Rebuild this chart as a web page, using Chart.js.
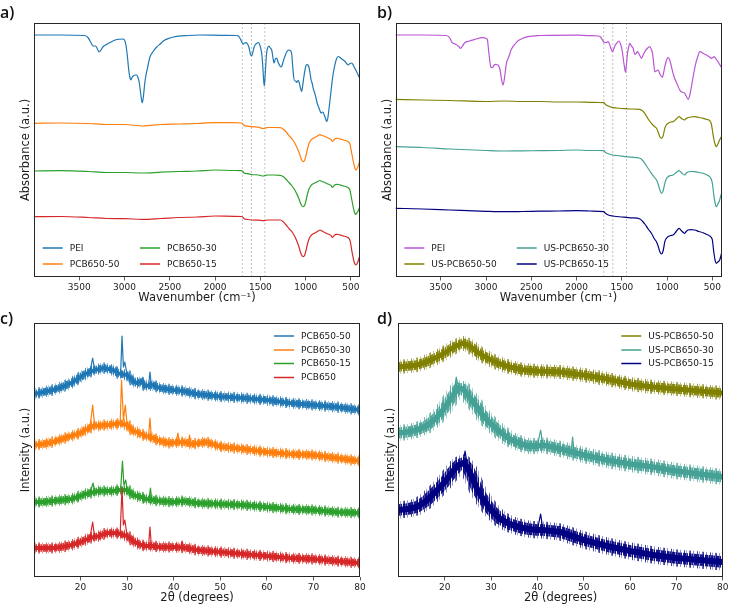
<!DOCTYPE html>
<html>
<head>
<meta charset="utf-8">
<script src="https://cdn.jsdelivr.net/npm/chart.js@4.4.0/dist/chart.umd.min.js"></script>
<style>
  html, body { margin: 0; padding: 0; background: #fff; }
  #wrap { position: relative; width: 730px; height: 606px; overflow: hidden; }
  canvas { position: absolute; }
</style>
</head>
<body>
<div id="wrap">
  <canvas id="panelA" width="372" height="306" style="left:0;top:0"></canvas>
  <canvas id="panelB" width="372" height="306" style="left:365px;top:0"></canvas>
  <canvas id="panelC" width="372" height="306" style="left:0;top:300px"></canvas>
  <canvas id="panelD" width="372" height="306" style="left:365px;top:300px"></canvas>
</div>
<script>
// ---- FTIR, panel a: [wavenumber (cm-1), absorbance (offset, a.u.)]
const labelsA = ["PEI", "PCB650-50", "PCB650-30", "PCB650-15"];
const peiA = [[4000,242],[3700,242],[3440,241.5],[3400,239],[3375,235],[3349,231],[3320,231],[3300,228],[3282,225],[3260,227],[3240,230],[3200,232.5],[3160,234.5],[3085,237.5],[3020,238],[3000,237],[2985,232],[2970,222],[2955,208],[2940,199],[2930,197],[2915,200],[2904,201],[2880,202],[2866,202],[2850,199],[2835,193],[2820,182],[2804,174],[2790,182],[2778,193],[2767,200],[2740,212],[2720,220],[2680,226],[2645,230],[2600,233.5],[2572,236],[2500,239],[2462,240],[2300,241.5],[2167,242],[1900,241.7],[1760,241.5],[1744,241],[1730,239.5],[1718,237.5],[1700,234],[1689,233],[1675,234],[1660,234.3],[1640,232.7],[1625,229],[1610,223],[1597,221],[1585,224],[1570,229.5],[1555,232.5],[1541,233.5],[1525,234.5],[1516,234],[1500,230],[1486,224],[1475,213],[1465,198],[1457,191],[1450,198],[1440,213],[1431,224],[1420,229],[1405,231],[1390,229],[1375,227],[1362,220],[1350,214],[1335,218],[1320,219],[1305,215],[1290,212],[1275,210],[1265,210.5],[1250,215],[1230,220.5],[1210,225],[1185,227],[1170,226.5],[1155,223.5],[1145,213],[1135,202],[1120,196],[1110,196],[1100,194.5],[1085,196.5],[1075,195.5],[1060,190],[1045,185.5],[1035,190],[1020,200],[1005,208],[990,212.5],[975,212],[965,210],[950,203],[940,197],[928,193.5],[915,188],[900,184],[886,179],[870,173],[860,170.5],[845,167],[831,164],[815,165],[806,164.5],[795,162],[780,158.5],[768,155.5],[755,159],[745,166],[731,177],[715,190],[695,204],[675,213],[660,218],[640,220.5],[620,219.5],[600,218],[585,217],[560,215],[530,212],[510,213.5],[492,214],[475,212],[455,208.5],[430,204],[410,200],[400,198]];
const pcb50A = [[4000,153.7],[3700,154],[3400,153.5],[3200,152.5],[3000,152.5],[2800,151],[2600,152.5],[2400,153],[2200,153.5],[2000,154.3],[1800,154.3],[1710,154],[1700,153.5],[1680,151.5],[1640,150.8],[1600,150.3],[1520,149.8],[1470,148.5],[1450,148.8],[1420,149.5],[1350,149.5],[1280,149.3],[1250,148],[1220,145.5],[1180,141],[1150,138],[1120,134],[1100,130.3],[1075,125],[1060,121],[1045,117],[1027,115.3],[1010,117],[995,122],[980,128],[965,133],[952,135.5],[930,138],[900,139.5],[870,141],[842,142.3],[820,141.5],[800,141],[768,139.7],[740,138.5],[720,137.5],[705,135.5],[695,136.3],[680,138],[658,138.7],[640,138.5],[600,137.5],[560,136.5],[530,135.3],[512,133],[500,128],[490,123],[475,116],[465,112],[453,108],[445,107],[435,108],[420,111],[410,114],[400,117]];
const pcb30A = [[4000,106],[3700,106.3],[3400,105.5],[3200,104.5],[3000,104.5],[2800,104],[2600,104.8],[2400,105.5],[2200,106],[2000,107],[1800,106.5],[1710,106.3],[1700,106],[1680,104],[1640,103.3],[1600,102.5],[1520,102],[1470,101],[1450,101.5],[1420,102],[1350,102],[1280,101.7],[1250,100.5],[1220,98],[1180,94],[1150,91],[1120,87],[1100,83.5],[1075,78.5],[1060,74.5],[1045,71.5],[1027,70.3],[1010,72],[995,77],[980,83],[965,87.5],[952,90],[930,92.5],[900,94],[870,95.5],[842,96.5],[820,95.5],[800,95],[768,93.5],[740,92.5],[720,91.5],[705,89.5],[695,90.3],[680,92],[658,92.7],[640,92.5],[600,91.5],[560,90.5],[530,89.3],[512,87],[500,82],[490,77],[475,70],[465,66],[453,63],[445,62.7],[435,64],[420,66],[410,68.5],[400,70.3]];
const pcb15A = [[4000,60.3],[3700,60.5],[3400,59.5],[3200,58.5],[3000,58.3],[2800,57.7],[2600,58.5],[2400,59.5],[2200,60],[2000,61],[1800,60.7],[1710,60.5],[1700,60.2],[1680,58.3],[1640,57.5],[1600,57],[1520,56.8],[1470,56.3],[1450,56.5],[1420,57],[1350,57],[1280,57],[1250,55.5],[1220,52.5],[1180,48],[1150,45],[1120,40.5],[1100,36.5],[1075,30.5],[1060,25.5],[1045,22],[1027,20.3],[1010,22],[995,27],[980,33],[965,37.5],[952,40],[930,42.5],[900,44],[870,45.5],[842,47],[820,46],[800,45],[768,43.5],[740,42.5],[720,41.5],[705,39.5],[695,40.3],[680,42],[658,42.7],[640,42.5],[600,41.5],[560,40.5],[530,39.3],[512,37],[500,32],[490,26],[475,19],[465,15],[453,12.5],[445,12],[435,13],[420,16],[410,19],[400,21]];

// ---- FTIR, panel b
const labelsB = ["PEI", "US-PCB650-50", "US-PCB650-30", "US-PCB650-15"];
const peiB = [[4000,242],[3700,242],[3440,241.5],[3400,239],[3375,234.3],[3340,233],[3300,230.5],[3282,228.7],[3260,231],[3235,234.3],[3180,236],[3124,237.7],[3033,239.3],[3000,238.5],[2985,237],[2970,225],[2948,210.3],[2930,209.3],[2915,211.5],[2896,212.7],[2880,212.3],[2867,212],[2845,207],[2830,198],[2812,192],[2795,200],[2775,213.7],[2750,220],[2720,227.7],[2680,233],[2646,236.3],[2600,238.5],[2536,240.3],[2400,241.5],[2315,241.7],[2000,241.8],[1855,241.3],[1760,241],[1730,239.5],[1715,237],[1700,235],[1678,234.3],[1653,235.3],[1630,231],[1615,227],[1604,225.3],[1590,228],[1575,231.5],[1560,233.7],[1531,236],[1515,233],[1498,227],[1480,215],[1468,208],[1460,204.7],[1450,212],[1438,223.7],[1425,230],[1413,233.7],[1395,231],[1376,228.7],[1358,222.7],[1343,223.5],[1328,225.3],[1305,222],[1284,218.7],[1265,222],[1247,225.3],[1220,228.5],[1192,230.3],[1175,227.5],[1162,223.7],[1150,215],[1137,205.3],[1120,206],[1100,207],[1080,203],[1052,199.7],[1040,204],[1026,210.3],[1010,216],[990,219.7],[970,216.5],[953,210.3],[930,202],[905,196],[885,192],[861,187],[840,185],[813,184.3],[790,181],[769,177.7],[750,182],[732,190.3],[710,202],[684,213.7],[660,221],[640,225.3],[600,223.5],[567,222],[540,220.5],[512,218.7],[495,219.5],[483,220.3],[460,218],[439,215.3],[420,212.5],[410,211],[400,209.5]];
const usPcb50B = [[4000,177.7],[3700,177],[3400,176.5],[3000,175.5],[2800,176],[2600,175.5],[2400,175.5],[2200,175],[2000,175],[1855,174.7],[1760,174.5],[1700,174.3],[1680,172.5],[1650,171],[1610,169.7],[1560,169],[1500,168.5],[1460,168.3],[1400,168],[1300,167.7],[1270,166],[1247,163.7],[1210,158],[1174,153.7],[1140,150.5],[1118,148.7],[1100,145],[1082,140.5],[1063,138.7],[1045,141],[1026,148.7],[1010,152],[990,153.7],[960,155],[935,155.3],[900,158],[868,160.3],[840,158.5],[806,157],[790,158.5],[769,159.3],[740,160],[695,160.3],[650,159.5],[603,158.7],[560,157.5],[530,156.3],[512,153],[501,147],[485,138],[470,132.5],[456,130.3],[440,133],[420,137],[410,139],[400,140.3]];
const usPcb30B = [[4000,130.3],[3700,129.5],[3400,128],[3000,126.5],[2800,126],[2600,126.2],[2400,126.3],[2200,126.5],[2000,127],[1855,126.5],[1760,126.5],[1700,126.3],[1680,124.5],[1650,123.3],[1600,122],[1560,121.5],[1500,120.8],[1450,120.3],[1400,119.8],[1300,118.7],[1270,116.5],[1247,113.7],[1210,108.5],[1174,103.7],[1140,99.5],[1118,97],[1100,93],[1082,87.5],[1063,83.7],[1045,86],[1026,93.7],[1010,98],[990,100.3],[960,101.5],[935,102],[900,104.5],[868,106.3],[840,104],[806,102],[790,103.7],[769,105],[740,105.5],[695,105.3],[650,104.5],[603,103.7],[560,102],[530,100.3],[512,97.5],[501,93.7],[485,82],[470,73.5],[456,70.3],[440,73],[420,77],[410,80.5],[400,83.7]];
const usPcb15B = [[4000,68.7],[3700,68],[3400,67],[3000,65.7],[2800,65.3],[2600,65.5],[2400,65.8],[2200,66],[2000,66.3],[1855,66],[1760,65.7],[1700,65.3],[1680,63.5],[1650,62],[1600,61],[1560,60.5],[1500,60],[1450,59.7],[1400,59.2],[1300,58],[1270,55.5],[1247,53],[1210,48],[1174,43.7],[1140,38],[1118,35.3],[1100,31],[1082,25.5],[1063,23],[1045,26],[1026,35.3],[1010,38.5],[990,40.3],[960,41.5],[935,42],[900,45.5],[868,48.7],[840,46],[806,43.7],[790,45.5],[769,47],[740,47.3],[695,47],[650,45.5],[603,44.3],[560,42.5],[530,41],[512,39.5],[501,37],[485,25],[470,16.5],[456,13.7],[440,15],[420,17],[410,20],[400,23.7]];

const markerLines = [1700, 1600, 1450];
const ftirTicks = [3500, 3000, 2500, 2000, 1500, 1000, 500];
const xrdTicks = [20, 30, 40, 50, 60, 70, 80];

// ---- XRD, panel c: [2theta (deg), intensity (offset, a.u.)], background trend + sharp reflections
const labelsC = ["PCB650-50", "PCB650-30", "PCB650-15", "PCB650"];
const xrdPcb50 = [[10,183],[12,185],[14,187],[16,190],[18,194],[20,200],[21,203],[22,205],[23,207],[24,208],[25,209],[26,208],[27,207],[28,204],[28.6,203],[30,202],[31,197],[32,194],[33,195],[34,191],[35.5,192],[37,189],[40,187],[42,186],[45,183],[50,180.5],[55,179],[60,177],[65,174],[70,172],[75,170],[80,167]];
const xrdPcb50Peaks = [[22.6,219],[28.9,241],[29.2,210],[29.5,215],[33.2,199],[34.6,192],[34.9,205],[35.2,192]];
const xrdPcb30 = [[10,132],[12,133],[14,135],[16,138],[18,141],[20,144],[21,147],[22,149],[23,152],[24,151],[25,152],[26,152],[27,153],[28,153],[28.5,154],[30,152],[31,147],[32,145],[33,143],[34,141],[35.5,139],[37,136],[39,134],[42,135],[44,133],[47,135],[50,130.5],[55,128],[60,125],[65,123],[70,122],[75,119],[80,116]];
const xrdPcb30Peaks = [[22.6,172],[28.8,197],[29.2,157],[29.6,172],[34.6,141],[34.9,159],[35.2,140],[40.6,135],[40.9,144],[41.2,135],[43.1,134],[43.4,142],[43.7,134]];
const xrdPcb15 = [[10,75],[12,75],[14,76],[16,77],[18,78],[20,81],[21,83],[22,84],[23,85],[24,86],[25,86],[26,86],[27,86],[28,87],[28.6,87],[30,87],[31,83],[32,81],[33,80],[34,78],[35.6,77],[37,76],[40,75],[42,76],[45,74],[50,73],[55,72],[60,70],[65,68],[70,67],[75,65],[80,64]];
const xrdPcb15Peaks = [[22.7,94],[29,116],[29.3,92],[29.7,97],[34.7,78],[35,89],[35.3,77]];
const xrdPcb = [[10,29],[12,29],[14,29],[16,30],[18,32],[20,35],[21,37],[22,39],[23,40],[24,41],[25,43],[26,44],[27,44],[28,44],[28.5,43],[30,41],[31,37],[32,34],[33,32],[34,31],[35.5,31],[37,30],[40,30],[43,29],[45,27],[50,25],[55,23],[60,21],[65,19],[70,18],[75,16],[80,14]];
const xrdPcbPeaks = [[22.6,55],[28.9,89],[29.2,52],[29.5,57],[34.6,31],[34.9,50],[35.2,31],[41.5,30],[41.8,36],[42.1,30]];

// ---- XRD, panel d
const labelsD = ["US-PCB650-50", "US-PCB650-30", "US-PCB650-15"];
const xrdUs50 = [[10,210],[12,211],[14,212],[16,215],[18,219],[20,224],[21,227],[22,230],[23,232],[24,234],[25,232],[26,229],[27,225],[28,222],[30,217],[32,213],[34,210],[37,207],[40,206],[45,205],[50,202],[55,198],[60,193],[65,190],[70,188],[75,186],[80,184]];
const xrdUs50Peaks = [];
const xrdUs30 = [[10,144],[12,145],[14,147],[16,151],[18,158],[20,169],[21,176],[22,183],[23,189],[24,188],[25,182],[26,176],[27,170],[28,163],[30,153],[32,145],[34,138],[36,134],[38,131],[40,131],[41.2,132],[45,128],[50,122],[55,117],[60,113],[65,110],[70,106],[75,103],[80,100]];
const xrdUs30Peaks = [[22.5,200],[40.7,147],[47.3,126],[47.6,140],[47.9,126]];
const xrdUs15 = [[10,67],[12,68],[14,70],[16,76],[18,85],[20,95],[21,101],[22,107],[23,112],[24,114],[25,109],[26,99],[27,88],[28,80],[30,67],[32,58],[34,53],[36,50],[38,48],[40,47],[41.2,47],[45,45],[50,37],[55,31],[60,26],[65,22],[70,19],[75,17],[80,15]];
const xrdUs15Peaks = [[24.4,126],[40.7,63]];

const colA = ["#1f77b4", "#ff7f0e", "#2ca02c", "#d62728"];
const colB = ["#ba55d3", "#808000", "#45a195", "#000080"];

function pts(arr) {
  return arr.map((p) => ({ x: p[0], y: p[1] }));
}

function withPeaks(base, peaks) {
  return pts(base.concat(peaks).sort((a, b) => a[0] - b[0]));
}

function rgba(hex, a) {
  const n = parseInt(hex.slice(1), 16);
  return `rgba(${(n >> 16) & 255}, ${(n >> 8) & 255}, ${n & 255}, ${a})`;
}

// striped stroke so the wide band around a diffractogram looks grainy like the raw scan
function grain(hex, mask, alpha) {
  const c = document.createElement("canvas");
  c.width = mask.length;
  c.height = 1;
  const g = c.getContext("2d");
  mask.forEach((m, i) => {
    if (m) {
      g.fillStyle = rgba(hex, alpha * m);
      g.fillRect(i, 0, 1, 1);
    }
  });
  return g.createPattern(c, "repeat");
}
const outerMask = [1, 0, 0, 0.6, 0, 0, 0, 1, 0, 0.5, 0, 0, 0.8];
const midMask = [1, 1, 0.5, 1, 0, 1, 1, 0.7, 1, 0, 1];

function ftirLine(label, arr, color) {
  return {
    label: label,
    data: pts(arr),
    borderColor: color,
    borderWidth: 1.2,
    pointRadius: 0,
    cubicInterpolationMode: "monotone",
    order: 1,
  };
}

function markerSets() {
  return markerLines.map((w) => ({
    data: [{ x: w, y: 0 }, { x: w, y: 254 }],
    borderColor: "#b4b4b4",
    borderWidth: 0.8,
    borderDash: [2, 2],
    pointRadius: 0,
    order: 50,
  }));
}

// noisy diffractogram = grainy band around the trend + thin line carrying the reflections
function xrdSets(label, base, peaks, color, idx, band) {
  const o = 100 - idx * 10;
  const common = { pointRadius: 0, borderJoinStyle: "round", borderCapStyle: "butt" };
  return [
    Object.assign({ data: pts(base), borderColor: grain(color, outerMask, 0.75), borderWidth: band, order: o + 4 }, common),
    Object.assign({ data: pts(base), borderColor: grain(color, midMask, 0.9), borderWidth: band * 0.68, order: o + 3 }, common),
    Object.assign({ data: pts(base), borderColor: color, borderWidth: band * 0.36, order: o + 2 }, common),
    Object.assign({ label: label, data: withPeaks(base, peaks), borderColor: color, borderWidth: 1.2, order: o + 1 }, common),
  ];
}

const decor = {
  id: "decor",
  afterDraw(chart, args, o) {
    const ctx = chart.ctx;
    const a = chart.chartArea;
    ctx.save();
    // frame
    ctx.strokeStyle = "#262626";
    ctx.lineWidth = 1;
    const x0 = Math.round(a.left) + 0.5, y0 = Math.round(a.top) + 0.5;
    const x1 = Math.round(a.right) - 0.5, y1 = Math.round(a.bottom) - 0.5;
    ctx.strokeRect(x0, y0, x1 - x0, y1 - y0);
    // panel tag
    ctx.fillStyle = "#111";
    ctx.font = '600 16px "Open Sans"';
    ctx.textAlign = "left";
    ctx.textBaseline = "alphabetic";
    ctx.fillText(o.tag, o.tagX, o.tagY);
    // axis titles
    ctx.fillStyle = "#1a1a1a";
    ctx.font = '11.5px "DejaVu Sans"';
    ctx.textAlign = "center";
    ctx.textBaseline = "middle";
    ctx.fillText(o.xTitle, (a.left + a.right) / 2, a.bottom + 21);
    ctx.translate(a.left - 7.5, (a.top + a.bottom) / 2);
    ctx.rotate(-Math.PI / 2);
    ctx.fillText(o.yTitle, 0, 0);
    ctx.setTransform(1, 0, 0, 1, 0, 0);
    // legend
    ctx.font = '9px "DejaVu Sans"';
    ctx.textAlign = "left";
    o.legend.forEach((it) => {
      const ds = chart.data.datasets.find((d) => d.label === it.text);
      const lx = a.left + it.dx, ly = a.top + it.dy;
      ctx.strokeStyle = ds.borderColor;
      ctx.lineWidth = 1.5;
      ctx.beginPath();
      ctx.moveTo(lx, ly);
      ctx.lineTo(lx + 20, ly);
      ctx.stroke();
      ctx.fillStyle = "#1a1a1a";
      ctx.fillText(it.text, lx + 27, ly + 0.5);
    });
    ctx.restore();
  },
};

function makePanel(id, datasets, xopt, leftW, rightPad, decorOpts) {
  const xs = Object.assign(
    {
      type: "linear",
      ticks: {
        font: { family: "DejaVu Sans", size: 9 },
        color: "#222",
        padding: 1.5,
        maxRotation: 0,
        autoSkip: false,
        callback: (v) => String(v),
      },
      grid: { drawOnChartArea: false, drawTicks: true, tickLength: 3.5, tickColor: "#333", lineWidth: 0.8 },
      border: { display: false },
      afterFit: (s) => {
        s.height = 29;
        s.paddingLeft = 0;
        s.paddingRight = 0;
      },
    },
    xopt
  );
  return new Chart(document.getElementById(id), {
    type: "line",
    data: { datasets: datasets },
    options: {
      responsive: false,
      animation: false,
      devicePixelRatio: 1,
      layout: { padding: { left: 0, right: rightPad, top: 23, bottom: 0 } },
      scales: {
        x: xs,
        y: {
          min: 0,
          max: 254,
          ticks: { display: false },
          grid: { display: false },
          border: { display: false },
          afterFit: (s) => {
            s.width = leftW;
          },
        },
      },
      plugins: { legend: { display: false }, tooltip: { enabled: false }, decor: decorOpts },
    },
    plugins: [decor],
  });
}

const ftirX = {
  min: 400,
  max: 4000,
  reverse: true,
  afterBuildTicks: (s) => {
    s.ticks = ftirTicks.map((v) => ({ value: v }));
  },
};
const xrdX = {
  min: 10,
  max: 80,
  afterBuildTicks: (s) => {
    s.ticks = xrdTicks.map((v) => ({ value: v }));
  },
};

makePanel(
  "panelA",
  markerSets().concat([
    ftirLine(labelsA[0], peiA, colA[0]),
    ftirLine(labelsA[1], pcb50A, colA[1]),
    ftirLine(labelsA[2], pcb30A, colA[2]),
    ftirLine(labelsA[3], pcb15A, colA[3]),
  ]),
  ftirX,
  34,
  12,
  {
    tag: "a)", tagX: 0, tagY: 18,
    xTitle: "Wavenumber (cm\u207B\u00B9)", yTitle: "Absorbance (a.u.)",
    legend: [
      { text: labelsA[0], dx: 8.7, dy: 225 },
      { text: labelsA[1], dx: 8.7, dy: 241 },
      { text: labelsA[2], dx: 106, dy: 225 },
      { text: labelsA[3], dx: 106, dy: 241 },
    ],
  }
);

makePanel(
  "panelB",
  markerSets().concat([
    ftirLine(labelsB[0], peiB, colB[0]),
    ftirLine(labelsB[1], usPcb50B, colB[1]),
    ftirLine(labelsB[2], usPcb30B, colB[2]),
    ftirLine(labelsB[3], usPcb15B, colB[3]),
  ]),
  ftirX,
  30.5,
  15.5,
  {
    tag: "b)", tagX: 12, tagY: 18,
    xTitle: "Wavenumber (cm\u207B\u00B9)", yTitle: "Absorbance (a.u.)",
    legend: [
      { text: labelsB[0], dx: 8.8, dy: 225 },
      { text: labelsB[1], dx: 8.8, dy: 241 },
      { text: labelsB[2], dx: 121.2, dy: 225 },
      { text: labelsB[3], dx: 121.2, dy: 241 },
    ],
  }
);

makePanel(
  "panelC",
  [].concat(
    xrdSets(labelsC[0], xrdPcb50, xrdPcb50Peaks, colA[0], 0, 11),
    xrdSets(labelsC[1], xrdPcb30, xrdPcb30Peaks, colA[1], 1, 11),
    xrdSets(labelsC[2], xrdPcb15, xrdPcb15Peaks, colA[2], 2, 11),
    xrdSets(labelsC[3], xrdPcb, xrdPcbPeaks, colA[3], 3, 11)
  ),
  xrdX,
  34,
  12,
  {
    tag: "c)", tagX: 0, tagY: 24,
    xTitle: "2\u03B8 (degrees)", yTitle: "Intensity (a.u.)",
    legend: [
      { text: labelsC[0], dx: 240, dy: 13 },
      { text: labelsC[1], dx: 240, dy: 27 },
      { text: labelsC[2], dx: 240, dy: 40.5 },
      { text: labelsC[3], dx: 240, dy: 54.5 },
    ],
  }
);

makePanel(
  "panelD",
  [].concat(
    xrdSets(labelsD[0], xrdUs50, xrdUs50Peaks, colB[1], 0, 14),
    xrdSets(labelsD[1], xrdUs30, xrdUs30Peaks, colB[2], 1, 16),
    xrdSets(labelsD[2], xrdUs15, xrdUs15Peaks, colB[3], 2, 17)
  ),
  xrdX,
  33.3,
  14.2,
  {
    tag: "d)", tagX: 12, tagY: 24,
    xTitle: "2\u03B8 (degrees)", yTitle: "Intensity (a.u.)",
    legend: [
      { text: labelsD[0], dx: 223, dy: 13 },
      { text: labelsD[1], dx: 223, dy: 27 },
      { text: labelsD[2], dx: 223, dy: 40.5 },
    ],
  }
);
</script>
</body>
</html>
